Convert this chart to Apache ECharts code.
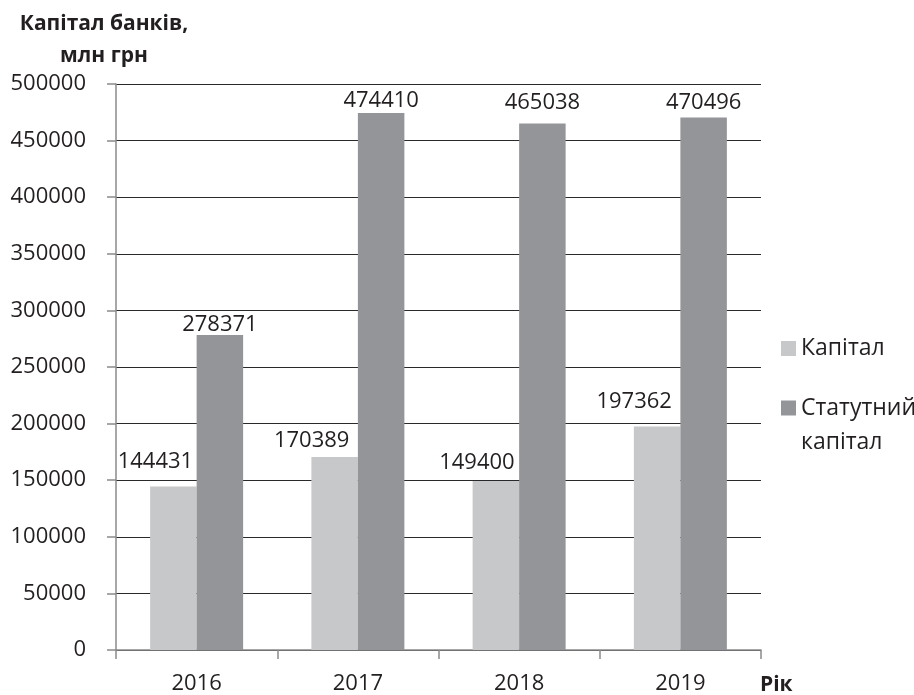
<!DOCTYPE html>
<html><head><meta charset="utf-8">
<script src="https://cdn.jsdelivr.net/npm/echarts@6/dist/echarts.min.js"></script>
<style>html,body{margin:0;padding:0;background:#fff}#c{width:914px;height:695px}</style>
</head><body><div id="c"></div>
<script>
const categories = ['2016', '2017', '2018', '2019'];
const capital = [144431, 170389, 149400, 197362];
const statutory = [278371, 474410, 465038, 470496];
const seriesNames = ['Капітал', 'Статутний\nкапітал'];
const yTitle = 'Капітал банків,\nмлн грн';
const xTitle = 'Рік';

// label placement nudges (as manually placed in the original), [dx, dy] in px
const capitalLabelShift = [[-18, -14], [-23, -5], [-19, -7], [-23, -14]];
const statutoryLabelShift = [[0, 1], [0, -1], [0, -10], [0, -4]];

const FONT = 'Open Sans';
const TXT = '#231f20';
const withShift = (vals, shifts) => vals.map((v, i) => ({ value: v, label: { offset: shifts[i] } }));

const chart = echarts.init(document.getElementById('c'));
chart.setOption({
  animation: false,
  textStyle: { fontFamily: FONT },
  title: {
    text: yTitle, left: 104, top: 8, textAlign: 'center', padding: 0,
    textStyle: { fontFamily: FONT, fontWeight: 'bold', fontSize: 21, color: TXT, lineHeight: 32 }
  },
  graphic: [{
    type: 'text', left: 760, top: 675,
    style: { text: xTitle, font: 'bold 21px "Open Sans"', fill: TXT }
  }],
  legend: [
    {
      orient: 'vertical', left: 781, top: 334, padding: 0, itemWidth: 15, itemHeight: 15, itemGap: 5,
      icon: 'rect',
      textStyle: { fontFamily: FONT, fontSize: 23, color: TXT, lineHeight: 29 },
      data: [seriesNames[0]]
    },
    {
      orient: 'vertical', left: 781, top: 357, padding: 0, itemWidth: 15, itemHeight: 15, itemGap: 5,
      icon: 'rect',
      formatter: name => '\n' + name,
      textStyle: { fontFamily: FONT, fontSize: 23, color: TXT, lineHeight: 34 },
      data: [seriesNames[1]]
    }
  ],
  grid: { left: 116, right: 153, top: 84, bottom: 44 },
  xAxis: {
    type: 'category', data: categories,
    axisLine: { lineStyle: { color: '#8a8a8c', width: 1.5 } },
    axisTick: { show: true, length: 9, alignWithLabel: false, lineStyle: { color: '#8a8a8c', width: 1.5 } },
    axisLabel: { fontSize: 22, color: TXT, margin: 23, fontFamily: FONT }
  },
  yAxis: {
    type: 'value', min: 0, max: 500000, interval: 50000,
    axisLine: { show: true, lineStyle: { color: '#8a8a8c', width: 1.5 } },
    axisTick: { show: true, length: 9, lineStyle: { color: '#8a8a8c', width: 1.5 } },
    axisLabel: { fontSize: 22, color: TXT, margin: 30, fontFamily: FONT, formatter: v => String(v) },
    splitLine: { lineStyle: { color: '#2a2a2a', width: 1.2 } }
  },
  series: [
    {
      name: seriesNames[0], type: 'bar', data: withShift(capital, capitalLabelShift), barWidth: 46.5, barGap: '0%',
      itemStyle: { color: '#c7c8ca' },
      label: { show: true, position: 'top', distance: 0, fontSize: 22, color: TXT, fontFamily: FONT }
    },
    {
      name: seriesNames[1], type: 'bar', data: withShift(statutory, statutoryLabelShift), barWidth: 46.5, barGap: '0%',
      itemStyle: { color: '#939598' },
      label: { show: true, position: 'top', distance: 0, fontSize: 22, color: TXT, fontFamily: FONT }
    }
  ]
});
</script></body></html>
